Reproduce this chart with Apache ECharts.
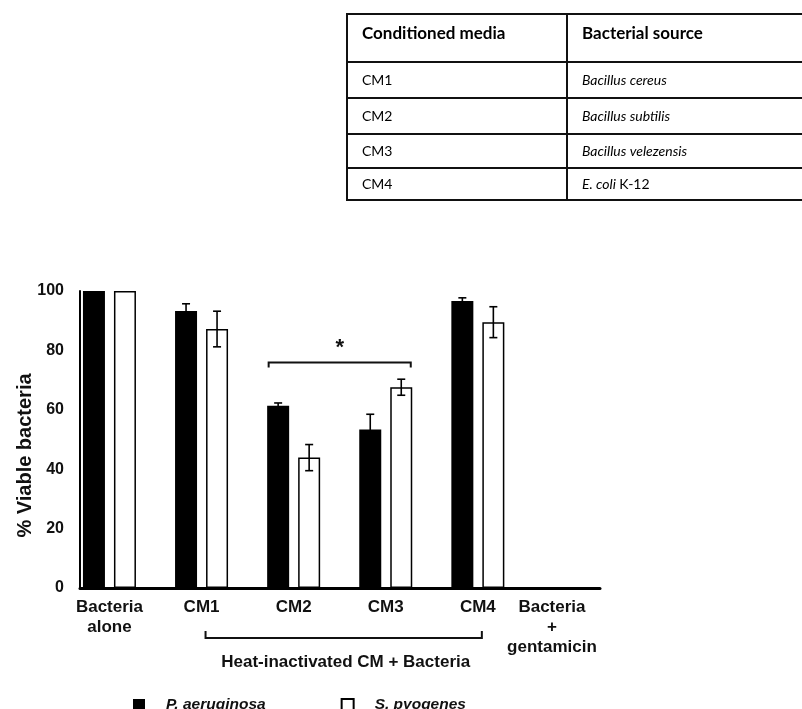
<!DOCTYPE html>
<html>
<head>
<meta charset="utf-8">
<script src="https://cdn.jsdelivr.net/npm/echarts@6/dist/echarts.min.js"></script>
<style>
html,body{margin:0;padding:0;background:#fff;}
#chart{width:802px;height:709px;}
</style>
</head>
<body>
<div id="chart"></div>
<script>
// ---- data ----
const categories = ['Bacteria\nalone', 'CM1', 'CM2', 'CM3', 'CM4', 'Bacteria\n+\ngentamicin'];
const paeruginosa = [100, 93.3, 61.4, 53.4, 96.6, 0];
const paeruginosaErr = [0, 2.4, 0.9, 5.1, 1.1, 0];
const spyogenes = [100, 87.2, 43.9, 67.6, 89.5, 0];
const spyogenesErr = [0, 6.0, 4.4, 2.7, 5.2, 0];
const seriesNames = ['P. aeruginosa', 'S. pyogenes'];
const yAxisTitle = '% Viable bacteria';
const groupLabel = 'Heat-inactivated CM + Bacteria';
const sigBracket = [[2, 3, 75.9]];      // from category, to category, level
const groupBracket = [[1, 4]];          // CM1 .. CM4
const tableHeader = ['Conditioned media', 'Bacterial source'];
const tableMedia = ['CM1', 'CM2', 'CM3', 'CM4'];
const tableSource = ['Bacillus cereus', 'Bacillus subtilis', 'Bacillus velezensis', 'E. coli|K-12'];

// ---- style constants ----
const FONT = '"Liberation Sans", Arial, sans-serif';
const TFONT = 'Lato, "Open Sans", sans-serif';
const BAR_W = 22, BAR_GAP = 9;
const OFF = (BAR_W + BAR_GAP) / 2;

const chart = echarts.init(document.getElementById('chart'), null, {renderer: 'canvas'});

// table graphic
const tbl = {left: 347, right: 803, top: 14, colX: 567, rows: [62, 98, 134, 168, 200]};
const tableEls = [];
const lineStyle = {stroke: '#111', lineWidth: 2};
[tbl.top].concat(tbl.rows).forEach(y => {
  tableEls.push({type: 'line', shape: {x1: tbl.left - 1, y1: y, x2: tbl.right, y2: y}, style: lineStyle});
});
[tbl.left, tbl.colX].forEach(x => {
  tableEls.push({type: 'line', shape: {x1: x, y1: tbl.top, x2: x, y2: tbl.rows[tbl.rows.length - 1]}, style: lineStyle});
});
tableEls.push({type: 'text', x: 362, y: (tbl.top + tbl.rows[0]) / 2 - 4,
  style: {text: tableHeader[0], font: 'bold 17px ' + TFONT, fill: '#000', verticalAlign: 'middle'}});
tableEls.push({type: 'text', x: 582, y: (tbl.top + tbl.rows[0]) / 2 - 4,
  style: {text: tableHeader[1], font: 'bold 17px ' + TFONT, fill: '#000', verticalAlign: 'middle'}});
tableMedia.forEach((m, i) => {
  const yc = (tbl.rows[i] + tbl.rows[i + 1]) / 2;
  tableEls.push({type: 'text', x: 362, y: yc,
    style: {text: m, font: '14px ' + TFONT, fill: '#000', verticalAlign: 'middle'}});
  const parts = tableSource[i].split('|');
  const txt = parts.length > 1 ? '{i|' + parts[0] + '} {n|' + parts[1] + '}' : '{i|' + parts[0] + '}';
  tableEls.push({type: 'text', x: 582, y: yc,
    style: {text: txt, verticalAlign: 'middle', fill: '#000',
      rich: {i: {fontFamily: TFONT, fontSize: 14, fontStyle: 'italic', fill: '#000'},
             n: {fontFamily: TFONT, fontSize: 14, fill: '#000'}}}});
});

function errRender(sign) {
  return function (params, api) {
    const idx = api.value(0), v = api.value(1), e = api.value(2);
    if (!e) return null;
    const c = api.coord([idx, v]);
    const x = c[0] + sign * OFF;
    const t = api.coord([idx, v + e])[1];
    const b = api.coord([idx, v - e])[1];
    const cap = 4;
    const st = {stroke: '#000', lineWidth: 1.6, fill: null};
    return {type: 'group', children: [
      {type: 'line', shape: {x1: x, y1: t, x2: x, y2: b}, style: st},
      {type: 'line', shape: {x1: x - cap, y1: t, x2: x + cap, y2: t}, style: st},
      {type: 'line', shape: {x1: x - cap, y1: b, x2: x + cap, y2: b}, style: st}
    ]};
  };
}

const option = {
  backgroundColor: '#fff',
  animation: false,
  graphic: {elements: tableEls},
  grid: [
    {left: 63.4, right: 186, top: 291, bottom: 121, outerBoundsMode: 'none', containLabel: false},
    {left: 80, right: 202, top: 291, bottom: 121, outerBoundsMode: 'none', containLabel: false}
  ],
  xAxis: [
    {type: 'category', gridIndex: 0, data: categories.map((c, i) => i === 5 ? {value: c, textStyle: {padding: [0, 36, 0, 0]}} : c),
      axisLine: {show: false}, axisTick: {show: false},
      axisLabel: {interval: 0, margin: 9, fontFamily: FONT, fontWeight: 'bold', fontSize: 17, lineHeight: 20, color: '#111'}},
    {type: 'value', gridIndex: 1, min: 0, max: 1, splitLine: {show: false}, axisTick: {show: false}, axisLabel: {show: false},
      axisLine: {show: true, lineStyle: {color: '#000', width: 3}}}
  ],
  yAxis: [
    {type: 'value', gridIndex: 0, min: 0, max: 100, interval: 20, show: false},
    {type: 'value', gridIndex: 1, min: 0, max: 100, interval: 20,
      splitLine: {show: false}, axisTick: {show: false},
      axisLine: {show: true, lineStyle: {color: '#000', width: 2}},
      axisLabel: {margin: 16, fontFamily: FONT, fontWeight: 'bold', fontSize: 16, color: '#111'},
      name: yAxisTitle, nameLocation: 'middle', nameGap: 45, nameMoveOverlap: false,
      nameTextStyle: {fontFamily: FONT, fontWeight: 'bold', fontSize: 20, color: '#111', padding: [0, 32, 0, 0]}}
  ],
  legend: {
    left: 128, top: 692, itemWidth: 12, itemHeight: 12, itemGap: 75, icon: 'rect',
    data: seriesNames,
    textStyle: {fontFamily: FONT, fontWeight: 'bold', fontStyle: 'italic', fontSize: 15.5, color: '#111', padding: [0, 0, 0, 16]}
  },
  series: [
    {name: seriesNames[0], type: 'bar', xAxisIndex: 0, yAxisIndex: 0, data: paeruginosa,
      barWidth: BAR_W, barGap: (BAR_GAP / BAR_W * 100) + '%',
      itemStyle: {color: '#000'}},
    {name: seriesNames[1], type: 'bar', xAxisIndex: 0, yAxisIndex: 0, data: spyogenes,
      barWidth: BAR_W,
      itemStyle: {color: '#fff', borderColor: '#000', borderWidth: 1.5}},
    {type: 'custom', xAxisIndex: 0, yAxisIndex: 0, z: 5, clip: false,
      data: paeruginosa.map((v, i) => [i, v, paeruginosaErr[i]]),
      encode: {x: 0, y: 1}, renderItem: errRender(-1)},
    {type: 'custom', xAxisIndex: 0, yAxisIndex: 0, z: 5, clip: false,
      data: spyogenes.map((v, i) => [i, v, spyogenesErr[i]]),
      encode: {x: 0, y: 1}, renderItem: errRender(1)},
    {type: 'custom', xAxisIndex: 0, yAxisIndex: 0, z: 5, clip: false,
      data: sigBracket, encode: {x: [0, 1], y: 2},
      renderItem: function (params, api) {
        const a = api.value(0), b = api.value(1), lvl = api.value(2);
        const l = api.coord([a, lvl])[0] - 25, r = api.coord([b, lvl])[0] + 25;
        const y = api.coord([a, lvl])[1];
        const st = {stroke: '#111', lineWidth: 2, fill: null};
        return {type: 'group', children: [
          {type: 'polyline', shape: {points: [[l, y + 5], [l, y], [r, y], [r, y + 5]]}, style: st},
          {type: 'text', x: (l + r) / 2, y: y - 26,
            style: {text: '*', font: 'bold 22px ' + FONT, fill: '#111', align: 'center', verticalAlign: 'top'}}
        ]};
      }},
    {type: 'custom', xAxisIndex: 0, yAxisIndex: 0, z: 5, clip: false,
      data: groupBracket, encode: {x: [0, 1]},
      renderItem: function (params, api) {
        const a = api.value(0), b = api.value(1);
        const base = api.coord([a, 0])[1];
        const l = api.coord([a, 0])[0] + 4, r = api.coord([b, 0])[0] + 4;
        const y = base + 50;
        const st = {stroke: '#111', lineWidth: 2, fill: null};
        return {type: 'group', children: [
          {type: 'polyline', shape: {points: [[l, y - 7], [l, y], [r, y], [r, y - 7]]}, style: st},
          {type: 'text', x: (l + r) / 2 + 2, y: y + 24,
            style: {text: groupLabel, font: 'bold 17px ' + FONT, fill: '#111', align: 'center', verticalAlign: 'middle'}}
        ]};
      }}
  ]
};
chart.setOption(option);
</script>
</body>
</html>
